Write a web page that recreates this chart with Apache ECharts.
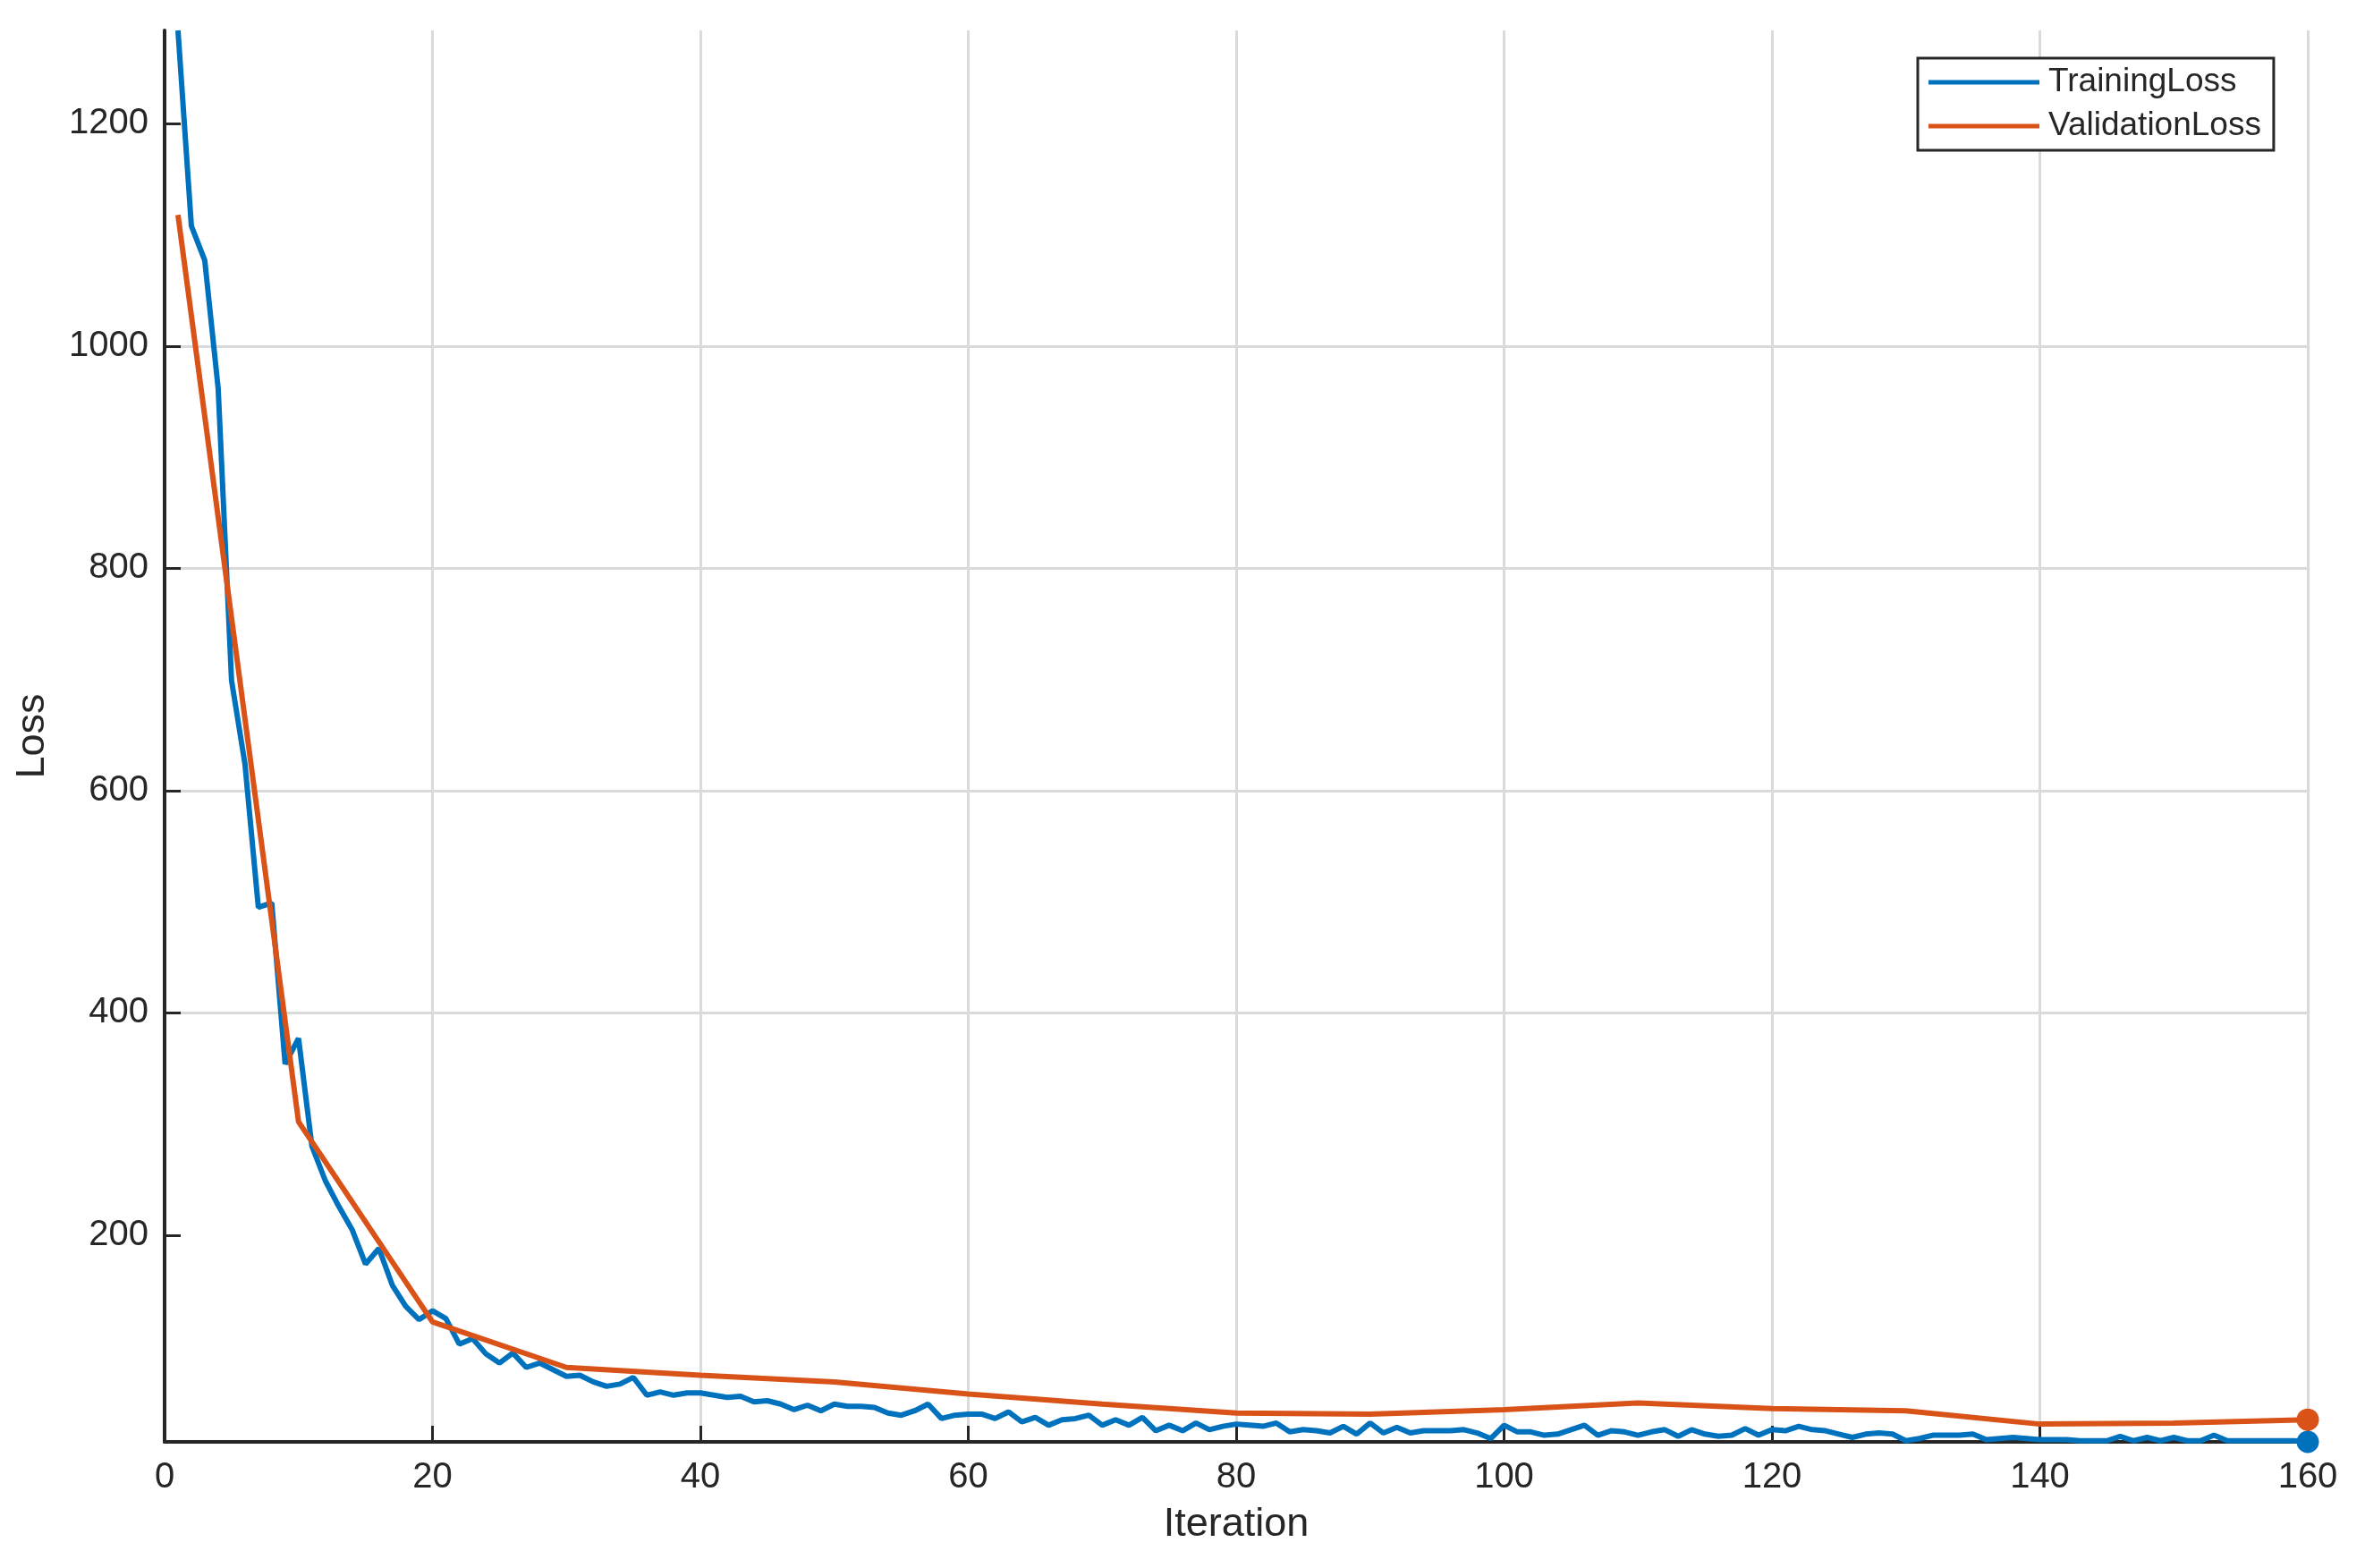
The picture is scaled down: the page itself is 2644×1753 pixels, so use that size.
<!DOCTYPE html>
<html>
<head>
<meta charset="utf-8">
<script src="https://cdn.jsdelivr.net/npm/echarts@6/dist/echarts.min.js"></script>
<style>
  html, body { margin: 0; padding: 0; background: #fff; }
  #chart { width: 2644px; height: 1753px; }
</style>
</head>
<body>
<div id="chart"></div>
<script>
// training loss, one value per iteration (1..160)
const trainLoss = [
  1284, 1108, 1077, 962, 699, 624, 495, 499, 354, 377,
  280, 249, 226, 205, 174, 188, 155, 136, 124, 132,
  125, 102, 107, 93, 85, 94, 81, 85, 79, 73,
  74, 68, 64, 66, 72, 56, 59, 56, 58, 58,
  56, 54, 55, 50, 51, 48, 43, 47, 42, 48,
  46, 46, 45, 40, 38, 42, 48, 35, 38, 39,
  39, 35, 41, 32, 36, 29, 34, 35, 38, 29,
  34, 29, 36, 24, 29, 24, 31, 25, 28, 30,
  29, 28, 31, 23, 25, 24, 22, 28, 21, 31,
  22, 27, 22, 24, 24, 24, 25, 22, 17, 29,
  23, 23, 20, 21, 25, 29, 20, 24, 23, 20,
  23, 25, 19, 25, 21, 19, 20, 26, 20, 25,
  24, 28, 25, 24, 21, 18, 21, 22, 21, 15,
  17, 20, 20, 20, 21, 16, 17, 18, 17, 16,
  16, 16, 15, 15, 15, 19, 15, 18, 15, 18,
  15, 15, 20, 15, 15, 15, 15, 15, 15, 14
];

const valIter = [1, 10, 20, 30, 40, 50, 60, 70, 80, 90, 100, 110, 120, 130, 140, 150, 160];
const valLoss = [1118, 302, 122, 81, 74, 68, 57, 48, 40, 39, 43, 49, 44, 42, 30, 31, 34];

const yTicks = [200, 400, 600, 800, 1000, 1200];
const yMin = 14, yMax = 1284;

const FONT = "Liberation Sans";
const INK = "#262626";
const BLUE = "#0072BD";
const ORANGE = "#D95319";

function withEndDot(points) {
  const last = points.length - 1;
  return points.map((p, i) => i === last
    ? { value: p, symbol: "circle", symbolSize: 25 }
    : { value: p, symbol: "none" });
}

const trainData = withEndDot(trainLoss.map((v, i) => [i + 1, v]));
const valData = withEndDot(valIter.map((it, i) => [it, valLoss[i]]));

const chart = echarts.init(document.getElementById("chart"), null, { renderer: "canvas" });

chart.setOption({
  animation: false,
  backgroundColor: "#fff",
  textStyle: { fontFamily: FONT },
  grid: { left: 184, right: 64, top: 34, bottom: 141, containLabel: false },
  legend: {
    orient: "vertical",
    left: 2144, top: 65,
    padding: [7, 14, 7, 12],
    itemGap: 9,
    itemWidth: 124, itemHeight: 5,
    icon: "rect",
    selectedMode: false,
    backgroundColor: "#fff",
    borderColor: INK, borderWidth: 3,
    textStyle: { fontFamily: FONT, fontSize: 37, color: INK, lineHeight: 40, padding: [0, 0, 0, 5] },
    data: ["TrainingLoss", "ValidationLoss"]
  },
  xAxis: {
    type: "value",
    min: 0, max: 160, interval: 20,
    name: "Iteration",
    nameLocation: "middle",
    nameGap: 70,
    nameTextStyle: { fontFamily: FONT, fontSize: 45, color: INK },
    axisLine: { show: true, onZero: false, lineStyle: { color: INK, width: 4 } },
    axisTick: { show: true, inside: true, length: 18, lineStyle: { color: INK, width: 3 } },
    axisLabel: { fontFamily: FONT, fontSize: 40, color: INK, margin: 20, formatter: v => String(v) },
    splitLine: { show: true, lineStyle: { color: "#dadada", width: 3 } }
  },
  yAxis: {
    type: "value",
    min: yMin, max: yMax,
    splitNumber: 6,
    name: "Loss",
    nameLocation: "middle",
    nameGap: 125,
    nameTextStyle: { fontFamily: FONT, fontSize: 45, color: INK },
    axisLine: { show: true, onZero: false, lineStyle: { color: INK, width: 4 } },
    axisTick: { show: true, inside: true, length: 18, customValues: yTicks, lineStyle: { color: INK, width: 3 } },
    axisLabel: { fontFamily: FONT, fontSize: 40, color: INK, margin: 18, customValues: yTicks, formatter: v => String(v) },
    splitLine: { show: true, showMinLine: false, showMaxLine: false, lineStyle: { color: "#dadada", width: 3 } }
  },
  series: [
    {
      name: "TrainingLoss",
      type: "line",
      data: trainData,
      showSymbol: true,
      symbol: "none",
      itemStyle: { color: BLUE },
      lineStyle: { color: BLUE, width: 6 },
      z: 2
    },
    {
      name: "ValidationLoss",
      type: "line",
      data: valData,
      showSymbol: true,
      symbol: "none",
      itemStyle: { color: ORANGE },
      lineStyle: { color: ORANGE, width: 6 },
      z: 3
    }
  ]
});
</script>
</body>
</html>
